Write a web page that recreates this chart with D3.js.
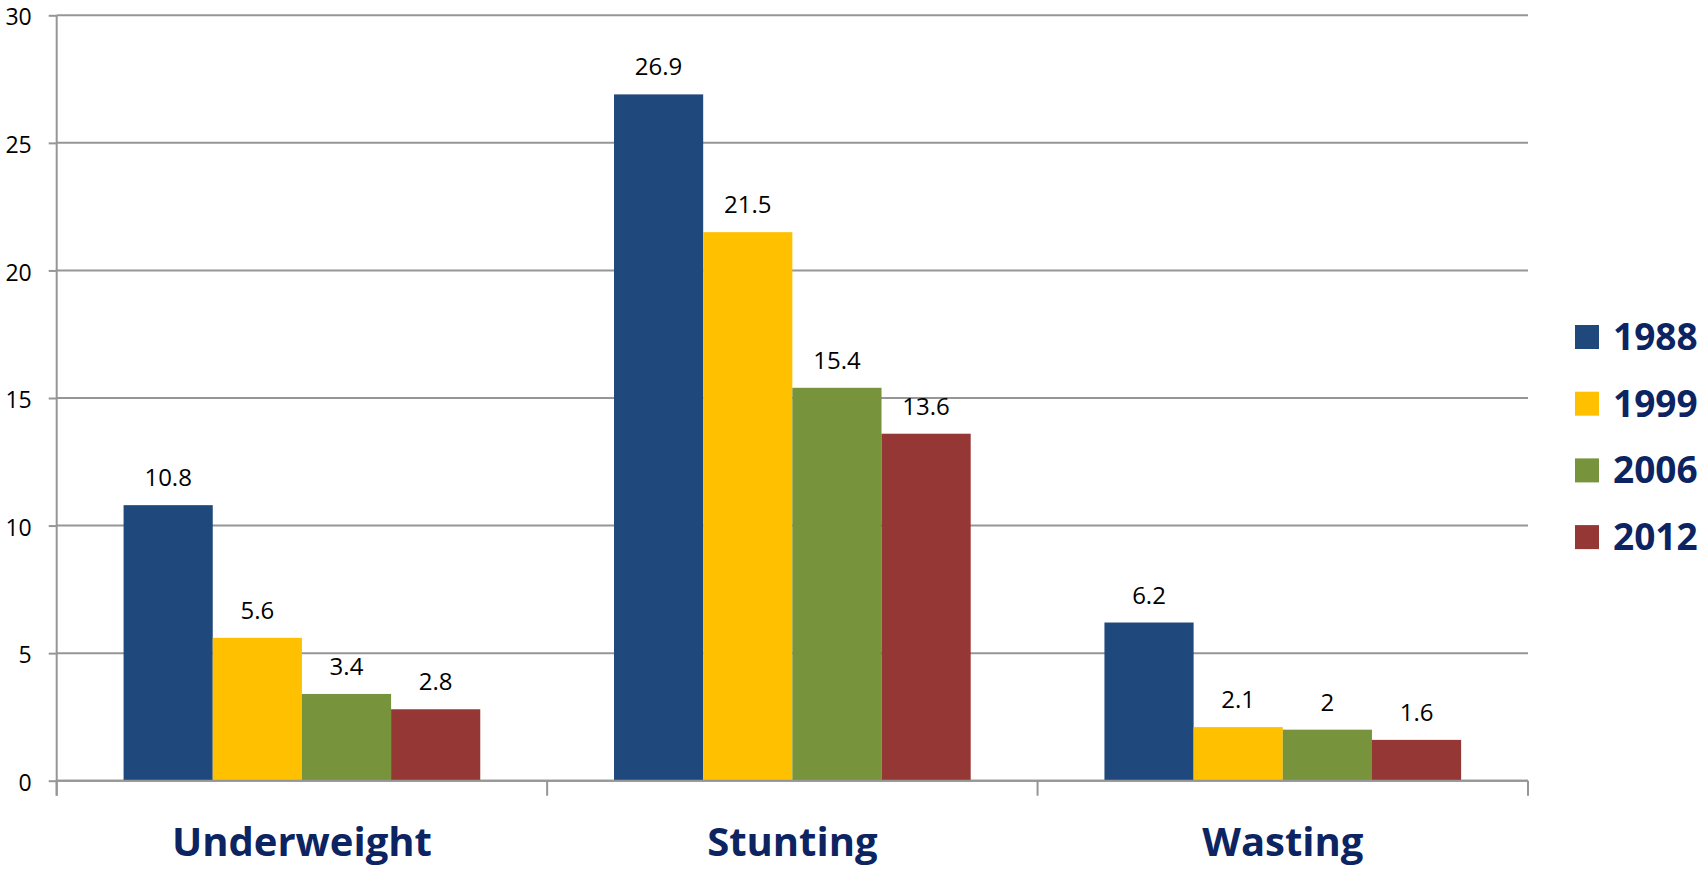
<!DOCTYPE html>
<html>
<head>
<meta charset="utf-8">
<script src="https://cdn.jsdelivr.net/npm/d3@7"></script>
<style>
  html, body { margin: 0; padding: 0; background: #fff; }
  svg { display: block; }
</style>
</head>
<body>
<svg id="chart" width="1700" height="873"></svg>
<script>
// Child nutrition indicators by survey year (%)
const categories = ["Underweight", "Stunting", "Wasting"];
const years = ["1988", "1999", "2006", "2012"];
const values1988 = [10.8, 26.9, 6.2];
const values1999 = [5.6, 21.5, 2.1];
const values2006 = [3.4, 15.4, 2];
const values2012 = [2.8, 13.6, 1.6];
const yTicks = [0, 5, 10, 15, 20, 25, 30];
const colors = ["#1F497D", "#FFC000", "#77933C", "#953735"];

const series = [values1988, values1999, values2006, values2012];

const svg = d3.select("#chart");
const plot = { left: 56.7, right: 1528, top: 15.3, bottom: 780.7 };
const gridColor = "#969696";
const textFont = "'Open Sans', 'Noto Sans', sans-serif";
const navy = "#0C2461";

const x0 = d3.scaleBand().domain(categories).range([plot.left, plot.right]).padding(0);
const x1 = d3.scaleBand().domain(years).range([0, x0.bandwidth()])
  .paddingInner(0).paddingOuter(0.75);
const y = d3.scaleLinear().domain([0, 30]).range([plot.bottom, plot.top]);

// horizontal gridlines
svg.append("g")
  .selectAll("line")
  .data(yTicks)
  .join("line")
  .attr("x1", plot.left)
  .attr("x2", plot.right)
  .attr("y1", d => y(d))
  .attr("y2", d => y(d))
  .attr("stroke", gridColor)
  .attr("stroke-width", 2);

// value axis
const yAxis = svg.append("g")
  .attr("transform", `translate(${plot.left},0)`)
  .call(d3.axisLeft(y).tickValues(yTicks).tickSize(8).tickPadding(17).tickFormat(d3.format("d")));
yAxis.select(".domain").remove();
yAxis.selectAll(".tick line").attr("stroke", gridColor).attr("stroke-width", 2);
yAxis.selectAll(".tick text")
  .attr("font-family", textFont)
  .attr("font-size", 23)
  .attr("fill", "#000")
  .attr("dy", "0.42em");

// bars
const groups = svg.append("g")
  .selectAll("g")
  .data(categories)
  .join("g")
  .attr("transform", d => `translate(${x0(d)},0)`);

groups.selectAll("rect")
  .data((c, ci) => years.map((yr, si) => ({ yr, si, v: series[si][ci] })))
  .join("rect")
  .attr("x", d => x1(d.yr))
  .attr("width", x1.bandwidth())
  .attr("y", d => y(d.v))
  .attr("height", d => y(0) - y(d.v))
  .attr("fill", d => colors[d.si]);

groups.selectAll("text")
  .data((c, ci) => years.map((yr, si) => ({ yr, si, v: series[si][ci] })))
  .join("text")
  .attr("x", d => x1(d.yr) + x1.bandwidth() / 2)
  .attr("y", d => y(d.v) - 19)
  .attr("text-anchor", "middle")
  .attr("font-family", textFont)
  .attr("font-size", 24)
  .attr("fill", "#000")
  .text(d => d.v);

// category axis line and boundary ticks
svg.append("line")
  .attr("x1", plot.left).attr("x2", plot.right)
  .attr("y1", plot.bottom).attr("y2", plot.bottom)
  .attr("stroke", gridColor).attr("stroke-width", 2);
svg.append("line")
  .attr("x1", plot.left).attr("x2", plot.left)
  .attr("y1", plot.top).attr("y2", plot.bottom + 15)
  .attr("stroke", gridColor).attr("stroke-width", 2);

const bounds = categories.map(c => x0(c)).concat([x0(categories[categories.length - 1]) + x0.bandwidth()]);
svg.append("g")
  .selectAll("line")
  .data(bounds)
  .join("line")
  .attr("x1", d => d).attr("x2", d => d)
  .attr("y1", plot.bottom).attr("y2", plot.bottom + 15)
  .attr("stroke", gridColor).attr("stroke-width", 2);

const xAxis = svg.append("g")
  .attr("transform", `translate(0,${plot.bottom})`)
  .call(d3.axisBottom(x0).tickSize(0).tickPadding(0));
xAxis.select(".domain").remove();
xAxis.selectAll(".tick text")
  .attr("y", 75)
  .attr("dy", 0)
  .attr("font-family", textFont)
  .attr("font-size", 40)
  .attr("font-weight", "bold")
  .attr("fill", navy);

// legend
const legend = svg.append("g")
  .selectAll("g")
  .data(years)
  .join("g")
  .attr("transform", (d, i) => `translate(1575,${337 + i * 66.7})`);
legend.append("rect")
  .attr("x", 0).attr("y", -12)
  .attr("width", 24).attr("height", 24)
  .attr("fill", (d, i) => colors[i]);
legend.append("text")
  .attr("x", 38)
  .attr("y", 13)
  .attr("font-family", textFont)
  .attr("font-size", 37)
  .attr("font-weight", "bold")
  .attr("fill", navy)
  .text(d => d);
</script>
</body>
</html>
